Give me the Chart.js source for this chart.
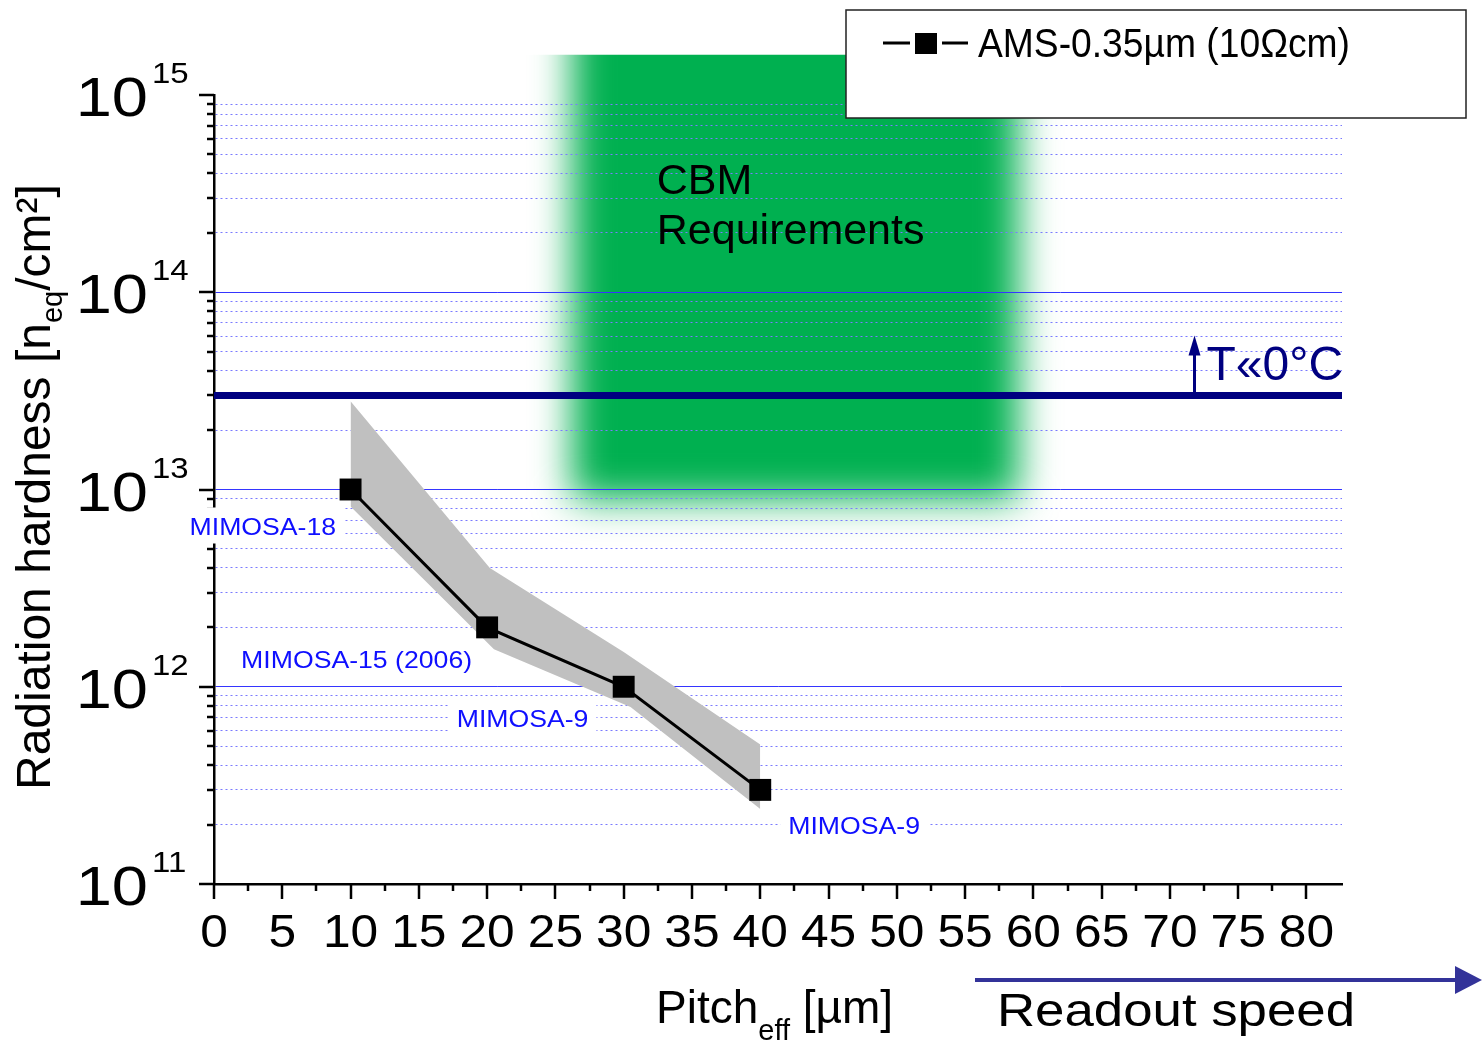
<!DOCTYPE html>
<html lang="en">
<head>
<meta charset="UTF-8">
<title>Radiation hardness vs pitch</title>
<script src="https://cdn.jsdelivr.net/npm/chart.js"></script>
<style>
  html, body { margin: 0; padding: 0; background: #fff; }
</style>
</head>
<body>
<canvas id="chart" width="1482" height="1043"></canvas>
<script>
const FONT = '"Liberation Sans", Arial, sans-serif';

// measured sensors
const pitch = [10, 20, 30, 40];
const hardness = [1e13, 2e12, 1e12, 3e11];
const sensorNames = ['MIMOSA-18', 'MIMOSA-15 (2006)', 'MIMOSA-9', 'MIMOSA-9'];
// grey uncertainty band
const bandTopPitch = [10, 20.2, 30, 40];
const bandTop = [2.8e13, 4.0e12, 1.5e12, 5.1e11];
const bandBottomPitch = [10, 20.5, 30.5, 40];
const bandBottom = [8.2e12, 1.55e12, 7.9e11, 2.4e11];
// cooled operation limit and CBM box
const coldLimit = 3e13;
const coldArrowPitch = 71.8;
const cbmPitch = [26.2, 58.9];
const cbmHardness = [8.9e12, 1.6e15];
// axes
const xMax = 82.6;
const xTickValues = [0, 5, 10, 15, 20, 25, 30, 35, 40, 45, 50, 55, 60, 65, 70, 75, 80];
const yExponents = [11, 12, 13, 14, 15];

// label offsets in px from the point (style only)
const nameOffsets = [[-161, 45], [-246, 41], [-167, 40], [28, 44]];

const xAllTicks = [];
for (let v = 0; v <= 80; v += 2.5) xAllTicks.push(v);
const yAllTicks = [];
yExponents.forEach(e => {
  for (let m = 1; m <= 9; m++) {
    if (e === 15 && m > 1) break;
    yAllTicks.push(m * Math.pow(10, e));
  }
});
const isDecade = v => Math.abs(Math.log10(v) - Math.round(Math.log10(v))) < 1e-9;

function fitText(ctx, str, x, y, font, color, sx, align) {
  ctx.save();
  ctx.font = font;
  ctx.fillStyle = color;
  ctx.textBaseline = 'alphabetic';
  ctx.textAlign = align || 'left';
  ctx.translate(x, y);
  ctx.scale(sx || 1, 1);
  ctx.fillText(str, 0, 0);
  ctx.restore();
}

const decor = {
  id: 'decor',
  beforeDraw(chart) {
    const {ctx, width, height} = chart;
    const xs = chart.scales.x, ys = chart.scales.y;
    ctx.save();
    ctx.fillStyle = '#fff';
    ctx.fillRect(0, 0, width, height);
    // CBM requirements block, soft edges
    const x0 = xs.getPixelForValue(cbmPitch[0]);
    const x1 = xs.getPixelForValue(cbmPitch[1]);
    const yb = ys.getPixelForValue(cbmHardness[0]);
    const yt = ys.getPixelForValue(cbmHardness[1]);
    ctx.beginPath();
    ctx.rect(0, yt, width, height - yt);
    ctx.clip();
    ctx.filter = 'blur(19px)';
    ctx.fillStyle = '#00b050';
    ctx.fillRect(x0, yt - 80, x1 - x0, yb - yt + 80);
    ctx.restore();
  },
  afterDatasetsDraw(chart) {
    const {ctx, chartArea} = chart;
    const xs = chart.scales.x, ys = chart.scales.y;
    ctx.save();
    ctx.strokeStyle = '#000';
    ctx.lineWidth = 2.5;
    yAllTicks.forEach(v => {
      const y = Math.round(ys.getPixelForValue(v));
      const len = isDecade(v) ? 15 : 7;
      ctx.beginPath();
      ctx.moveTo(chartArea.left - len, y);
      ctx.lineTo(chartArea.left, y);
      ctx.stroke();
    });
    xAllTicks.forEach(v => {
      const x = Math.round(xs.getPixelForValue(v));
      const len = v % 5 === 0 ? 15 : 7;
      ctx.beginPath();
      ctx.moveTo(x, chartArea.bottom);
      ctx.lineTo(x, chartArea.bottom + len);
      ctx.stroke();
    });
    // sensor names on white boxes
    ctx.font = '24px ' + FONT;
    sensorNames.forEach((name, i) => {
      const px = xs.getPixelForValue(pitch[i]) + nameOffsets[i][0];
      const py = ys.getPixelForValue(hardness[i]) + nameOffsets[i][1];
      const w = ctx.measureText(name).width * 1.11;
      ctx.fillStyle = '#fff';
      ctx.fillRect(px - 8, py - 27, w + 16, 36);
      fitText(ctx, name, px, py, '24px ' + FONT, '#0f0fff', 1.11);
    });
    ctx.restore();
  },
  afterDraw(chart) {
    const {ctx} = chart;
    const xs = chart.scales.x, ys = chart.scales.y;
    ctx.save();
    // y tick labels 10^n
    yExponents.forEach(e => {
      const y = ys.getPixelForValue(Math.pow(10, e));
      fitText(ctx, '10', 148, y + 21, '56px ' + FONT, '#000', 1.16, 'right');
      fitText(ctx, String(e), 152, y - 12, '30px ' + FONT, '#000', 1.1, 'left');
    });
    // x tick labels
    xTickValues.forEach(v => {
      fitText(ctx, String(v), xs.getPixelForValue(v), 947, '46px ' + FONT, '#000', 1.08, 'center');
    });
    // y title
    ctx.save();
    ctx.translate(50, 790);
    ctx.rotate(-Math.PI / 2);
    ctx.fillStyle = '#000';
    ctx.textBaseline = 'alphabetic';
    let cx = 0;
    const seg = (s, size, dy) => {
      ctx.font = size + 'px ' + FONT;
      ctx.fillText(s, cx, dy);
      cx += ctx.measureText(s).width;
    };
    seg('Radiation hardness [n', 48, 0);
    seg('eq', 29, 12);
    seg('/cm\u00b2]', 48, 0);
    ctx.restore();
    // x title
    ctx.fillStyle = '#000';
    ctx.textAlign = 'left';
    ctx.font = '46px ' + FONT;
    ctx.fillText('Pitch', 656, 1023);
    let tx = 656 + ctx.measureText('Pitch').width;
    ctx.font = '29px ' + FONT;
    ctx.fillText('eff', tx, 1040);
    tx += ctx.measureText('eff').width;
    ctx.font = '46px ' + FONT;
    ctx.fillText(' [\u00b5m]', tx, 1023);
    // readout speed arrow
    ctx.strokeStyle = '#333399';
    ctx.fillStyle = '#333399';
    ctx.lineWidth = 4;
    ctx.beginPath();
    ctx.moveTo(975, 980);
    ctx.lineTo(1460, 980);
    ctx.stroke();
    ctx.beginPath();
    ctx.moveTo(1455, 966);
    ctx.lineTo(1482, 980);
    ctx.lineTo(1455, 994);
    ctx.closePath();
    ctx.fill();
    ctx.font = '47px ' + FONT;
    const rw = ctx.measureText('Readout speed').width;
    fitText(ctx, 'Readout speed', 997, 1026, '47px ' + FONT, '#000', 358 / rw, 'left');
    // cooled limit arrow + text
    const ax = xs.getPixelForValue(coldArrowPitch);
    const ay = ys.getPixelForValue(coldLimit);
    ctx.strokeStyle = '#000080';
    ctx.fillStyle = '#000080';
    ctx.lineWidth = 3;
    ctx.beginPath();
    ctx.moveTo(ax, ay - 3);
    ctx.lineTo(ax, ay - 45);
    ctx.stroke();
    ctx.beginPath();
    ctx.moveTo(ax - 6, ay - 40);
    ctx.lineTo(ax, ay - 60);
    ctx.lineTo(ax + 6, ay - 40);
    ctx.closePath();
    ctx.fill();
    fitText(ctx, 'T\u00ab0\u00b0C', ax + 12, ay - 15, '48px ' + FONT, '#000080', 1, 'left');
    // CBM text
    const cbmX = xs.getPixelForValue(cbmPitch[0]) + 85;
    fitText(ctx, 'CBM', cbmX, 194, '43px ' + FONT, '#000', 1, 'left');
    fitText(ctx, 'Requirements', cbmX, 244, '43px ' + FONT, '#000', 1, 'left');
    // legend
    ctx.fillStyle = '#fff';
    ctx.fillRect(846, 10, 620, 108);
    ctx.strokeStyle = '#222';
    ctx.lineWidth = 1.5;
    ctx.strokeRect(846, 10, 620, 108);
    ctx.strokeStyle = '#000';
    ctx.lineWidth = 3;
    ctx.beginPath();
    ctx.moveTo(883, 43);
    ctx.lineTo(910, 43);
    ctx.moveTo(942, 43);
    ctx.lineTo(968, 43);
    ctx.stroke();
    ctx.fillStyle = '#000';
    ctx.fillRect(915, 33, 22, 21);
    ctx.font = '40px ' + FONT;
    const lbl = chart.data.datasets[0].label;
    const lw = ctx.measureText(lbl).width;
    fitText(ctx, lbl, 978, 57, '40px ' + FONT, '#000', 372 / lw, 'left');
    ctx.restore();
  }
};

new Chart(document.getElementById('chart'), {
  type: 'line',
  data: {
    datasets: [
      {
        label: 'AMS-0.35\u00b5m (10\u03a9cm)',
        data: pitch.map((x, i) => ({x: x, y: hardness[i]})),
        borderColor: '#000',
        borderWidth: 3,
        pointStyle: 'rect',
        pointRadius: 15.5,
        pointBackgroundColor: '#000',
        pointBorderWidth: 0,
        order: 0
      },
      {
        label: 'cold limit',
        data: [{x: 0, y: coldLimit}, {x: xMax, y: coldLimit}],
        borderColor: '#000080',
        borderWidth: 7,
        pointRadius: 0,
        order: 1
      },
      {
        label: 'band top',
        data: bandTopPitch.map((x, i) => ({x: x, y: bandTop[i]})),
        borderColor: 'rgba(0,0,0,0)',
        backgroundColor: '#c0c0c0',
        pointRadius: 0,
        fill: '+1',
        order: 2
      },
      {
        label: 'band bottom',
        data: bandBottomPitch.map((x, i) => ({x: x, y: bandBottom[i]})),
        borderColor: 'rgba(0,0,0,0)',
        pointRadius: 0,
        fill: false,
        order: 2
      }
    ]
  },
  options: {
    responsive: false,
    animation: false,
    events: [],
    layout: {padding: {left: 0, top: 95, right: 140, bottom: 0}},
    plugins: {legend: {display: false}, tooltip: {enabled: false}},
    scales: {
      x: {
        type: 'linear',
        min: 0,
        max: xMax,
        afterBuildTicks: s => { s.ticks = xAllTicks.map(v => ({value: v})); },
        afterFit: s => { s.height = 159; },
        ticks: {display: false},
        grid: {display: false, drawTicks: false},
        border: {display: true, color: '#000', width: 2.5}
      },
      y: {
        type: 'logarithmic',
        min: 1e11,
        max: 1e15,
        afterBuildTicks: s => { s.ticks = yAllTicks.map(v => ({value: v})); },
        afterFit: s => { s.width = 214; },
        ticks: {display: false},
        grid: {
          drawTicks: false,
          lineWidth: 1,
          color: c => {
            if (!c.tick) return 'rgba(0,0,0,0)';
            const v = c.tick.value;
            if (v <= 1e11 || v >= 1e15) return 'rgba(0,0,0,0)';
            return isDecade(v) ? '#3535ff' : '#7a7aff';
          }
        },
        border: {
          display: true,
          color: '#000',
          width: 2.5,
          dash: c => (c.tick && !isDecade(c.tick.value)) ? [2, 3] : []
        }
      }
    }
  },
  plugins: [decor]
});
</script>
</body>
</html>
